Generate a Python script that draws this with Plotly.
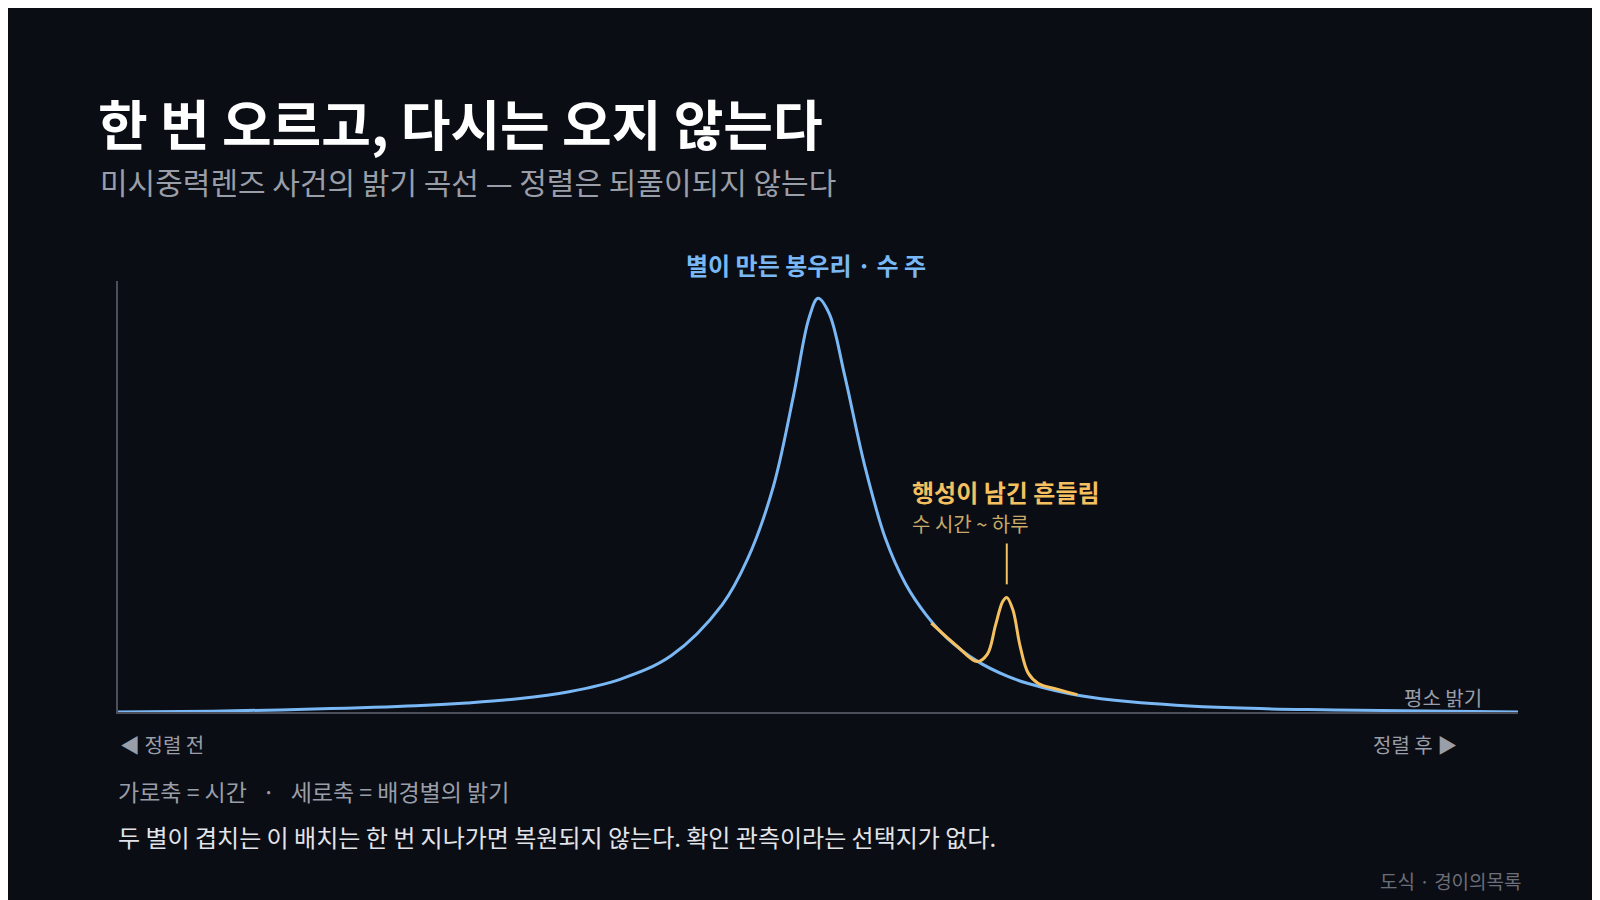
import plotly.graph_objects as go

# Light curve: time (days from peak) vs. brightness (baseline = 1)
t_star = [-34.3, -29.7, -24.7, -19.7, -17.2, -14.7, -12.2, -9.7, -7.2, -4.7, -3.45, -2.2, -1.2, -0.45,
          0.0, 0.55, 1.3, 2.3, 3.3, 4.3, 5.3, 6.3, 7.8, 9.3, 10.3, 12.8, 15.3, 20.3, 25.3, 34.3]
b_star = [1.0, 1.02, 1.07, 1.15, 1.22, 1.32, 1.49, 1.79, 2.36, 3.59, 4.70, 6.43, 8.65, 10.51,
          11.0, 10.63, 9.15, 6.93, 5.20, 4.09, 3.35, 2.80, 2.23, 1.86, 1.69, 1.40, 1.25, 1.10, 1.05, 1.0]

# Planet anomaly segment (time relative to the anomaly)
t_planet = [-3.7, -2.45, -1.45, -0.95, -0.55, -0.2, 0.0, 0.3, 0.65, 1.05, 1.55, 2.55, 3.45]
b_planet = [3.15, 2.60, 2.22, 2.40, 3.10, 3.67, 3.77, 3.47, 2.60, 1.94, 1.69, 1.54, 1.42]
planet_t0 = 9.25

peak_label = "별이 만든 봉우리 · 수 주"
planet_label = "행성이 남긴 흔들림"
planet_sub = "수 시간 ~ 하루"

BG = "#0a0d14"
BLUE = "#7ab8f5"
ORANGE = "#f5c060"
FONT = "Noto Sans CJK KR"

S = 1600 / 1568
L, R, T, B = 108 * S, 1480 * S, 268 * S, 690 * S


def px(x):
    return (x * S - L) / (R - L)


def py(y):
    return (B - y * S) / (B - T)


fig = go.Figure()
fig.add_trace(go.Scatter(x=t_star, y=b_star, mode="lines", line=dict(color=BLUE, width=3, shape="spline"),
                         hoverinfo="skip"))
fig.add_trace(go.Scatter(x=[planet_t0 + v for v in t_planet], y=b_planet, mode="lines",
                         line=dict(color=ORANGE, width=3, shape="spline"), hoverinfo="skip"))


def txt(x, y, s, size, color, anchor="left", bold=False):
    fig.add_annotation(x=px(x), y=py(y), xref="paper", yref="paper", text=f"<b>{s}</b>" if bold else s,
                       showarrow=False, xanchor=anchor, yanchor="middle",
                       font=dict(family=FONT, size=size, color=color))


txt(86, 113, "한 번 오르고, 다시는 오지 않는다", 54, "#ffffff", bold=True)
txt(88, 170, "미시중력렌즈 사건의 밝기 곡선 — 정렬은 되풀이되지 않는다", 30, "#9a9ea8")
txt(782, 252, peak_label, 24, BLUE, "center", True)
txt(884, 474, planet_label, 24, ORANGE, bold=True)
txt(884, 505, planet_sub, 20, "#c9a968")
txt(1447, 676, "평소 밝기", 20, "#9a9ea8", "right")
txt(108, 722, "◀ 정렬 전", 20, "#9a9ea8")
txt(1422, 722, "정렬 후 ▶", 20, "#9a9ea8", "right")
txt(106, 767, "가로축 = 시간   ·   세로축 = 배경별의 밝기", 23, "#9a9ea8")
txt(106, 812, "두 별이 겹치는 이 배치는 한 번 지나가면 복원되지 않는다. 확인 관측이라는 선택지가 없다.", 24, "#e2e4ea")
txt(1486, 855, "도식 · 경이의목록", 19, "#6a6e78", "right")

fig.add_shape(type="line", xref="paper", yref="paper", x0=px(979), x1=px(979), y0=py(525), y1=py(565),
              line=dict(color=ORANGE, width=2))

fig.update_layout(
    width=1600, height=900, paper_bgcolor=BG, plot_bgcolor=BG, showlegend=False,
    margin=dict(l=L, r=1600 - R, t=T, b=900 - B),
    xaxis=dict(range=[-34.3, 34.3], showgrid=False, zeroline=False, showticklabels=False,
               showline=True, linecolor="#4a4f5a", linewidth=1.5),
    yaxis=dict(range=[1, 1 + 422 / 40.5], showgrid=False, zeroline=False, showticklabels=False,
               showline=True, linecolor="#4a4f5a", linewidth=1.5),
)
fig.write_html("out.html")
